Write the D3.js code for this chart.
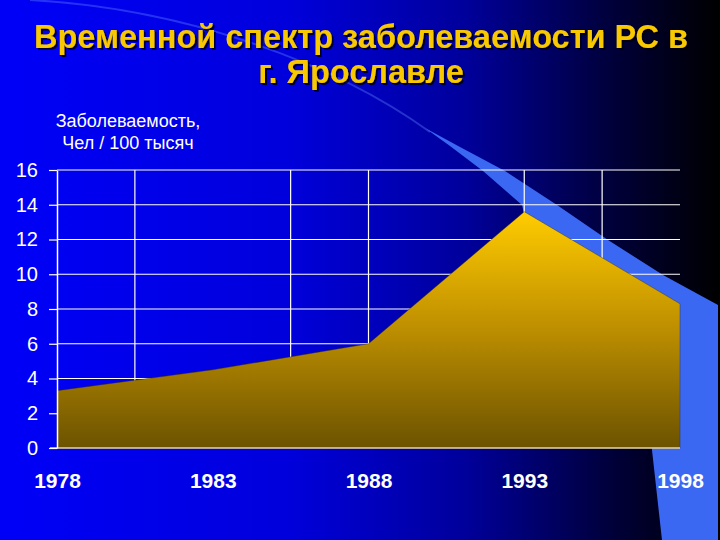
<!doctype html>
<html>
  <head>
    <meta charset="utf-8">
    <script src="https://cdn.jsdelivr.net/npm/d3@7"></script>
    <style>
      body { margin: 0; background: #000; }
      svg { display: block; font-family: "Liberation Sans", Arial, sans-serif; }
    </style>
  </head>
  <body>
    <svg id="chart" width="720" height="540"></svg>

    <script>
      // data
      var years = [1978, 1983, 1988, 1993, 1998];
      var rates = [3.3, 4.5, 6.0, 13.6, 8.3];
      var yTicks = [0, 2, 4, 6, 8, 10, 12, 14, 16];
      var xTicks = [1978, 1983, 1988, 1993, 1998];
      var gridYears = [1980.5, 1985.5, 1988, 1993, 1995.5];
      var titleLines = ["Временной спектр заболеваемости РС в", "г. Ярославле"];
      var unitLines = ["Заболеваемость,", "Чел / 100 тысяч"];

      var svg = d3.select("#chart");
      var defs = svg.append("defs");

      // slide background: blue fading to black on the right
      var bg = defs.append("linearGradient").attr("id", "bg")
        .attr("x1", 0).attr("x2", 1).attr("y1", 0).attr("y2", 0);
      bg.append("stop").attr("offset", 0).attr("stop-color", "#0000f8");
      bg.append("stop").attr("offset", 0.4).attr("stop-color", "#0000dc");
      bg.append("stop").attr("offset", 0.65).attr("stop-color", "#00009a");
      bg.append("stop").attr("offset", 0.85).attr("stop-color", "#00003a");
      bg.append("stop").attr("offset", 1).attr("stop-color", "#000000");

      var gold = defs.append("linearGradient").attr("id", "gold")
        .attr("x1", 0).attr("x2", 0).attr("y1", 0).attr("y2", 1);
      gold.append("stop").attr("offset", 0).attr("stop-color", "#ffcc00");
      gold.append("stop").attr("offset", 0.45).attr("stop-color", "#c49400");
      gold.append("stop").attr("offset", 1).attr("stop-color", "#6c5300");

      var shadow = defs.append("filter").attr("id", "shadow")
        .attr("x", "-5%").attr("y", "-20%").attr("width", "110%").attr("height", "140%");
      shadow.append("feDropShadow")
        .attr("dx", 2).attr("dy", 2).attr("stdDeviation", 0.6)
        .attr("flood-color", "#000").attr("flood-opacity", 0.75);

      svg.append("rect").attr("width", 720).attr("height", 540).attr("fill", "url(#bg)");

      // the decorative swoosh of the template
      svg.append("path")
        .attr("d", "M30,0 C180,8 330,60 430,132")
        .attr("fill", "none").attr("stroke", "#6a90ff")
        .attr("stroke-width", 2).attr("stroke-opacity", 0.35);
      svg.append("path")
        .attr("d", "M425,128 L460,147 L505,171 L557,205 L608,240 L663,275 L718,305 L718,540 L662,540 L652,450 L640,330 L560,250 L524,213 L522,205 L483,171 L450,146 Z")
        .attr("fill", "#3b68f2");

      var x = d3.scaleLinear().domain([1978, 1998]).range([57, 680]);
      var y = d3.scaleLinear().domain([0, 16]).range([448, 170]);

      // title
      svg.append("g").attr("filter", "url(#shadow)").selectAll("text")
        .data(titleLines)
        .enter().append("text")
          .attr("x", 361).attr("y", function(d, i) { return 48 + i * 35; })
          .attr("text-anchor", "middle")
          .attr("font-size", 32.5).attr("font-weight", "bold")
          .attr("fill", "#f8c800")
          .text(function(d) { return d; });

      svg.append("g").selectAll("text")
        .data(unitLines)
        .enter().append("text")
          .attr("x", 128).attr("y", function(d, i) { return 127 + i * 22; })
          .attr("text-anchor", "middle")
          .attr("font-size", 18).attr("fill", "#fff")
          .text(function(d) { return d; });

      // grid
      var grid = svg.append("g").attr("stroke", "#fff").attr("stroke-width", 1.2);
      grid.selectAll("line.h")
        .data(yTicks.slice(1))
        .enter().append("line")
          .attr("x1", x(1978)).attr("x2", x(1998))
          .attr("y1", function(d) { return y(d); }).attr("y2", function(d) { return y(d); });
      grid.selectAll("line.v")
        .data(gridYears)
        .enter().append("line")
          .attr("x1", function(d) { return x(d); }).attr("x2", function(d) { return x(d); })
          .attr("y1", y(16)).attr("y2", y(0));

      // area
      var area = d3.area()
        .x(function(d, i) { return x(years[i]); })
        .y0(y(0))
        .y1(function(d) { return y(d); });
      svg.append("path")
        .datum(rates)
        .attr("d", area)
        .attr("fill", "url(#gold)")
        .attr("stroke", "#3a2c00").attr("stroke-width", 0.8).attr("stroke-opacity", 0.5);

      // x baseline
      svg.append("line")
        .attr("x1", 50).attr("x2", x(1998))
        .attr("y1", y(0)).attr("y2", y(0))
        .attr("stroke", "#e8d8a8").attr("stroke-width", 1.5);

      // y axis
      var yAxis = svg.append("g")
        .attr("transform", "translate(" + x(1978) + ",0)")
        .call(d3.axisLeft(y).tickValues(yTicks).tickSize(8).tickPadding(11).tickSizeOuter(0));
      yAxis.select(".domain").attr("stroke", "#fff").attr("stroke-width", 1.5);
      yAxis.selectAll(".tick line").attr("stroke", "#fff").attr("stroke-width", 1.2);
      yAxis.selectAll(".tick text")
        .attr("fill", "#fff").attr("font-size", 20)
        .attr("font-family", "Liberation Sans, Arial, sans-serif");

      // x axis labels
      var xAxis = svg.append("g")
        .attr("transform", "translate(0," + y(0) + ")")
        .call(d3.axisBottom(x).tickValues(xTicks).tickFormat(d3.format("d")).tickSize(0).tickPadding(25));
      xAxis.select(".domain").remove();
      xAxis.selectAll(".tick text")
        .attr("fill", "#fff").attr("font-size", 21).attr("font-weight", "bold")
        .attr("font-family", "Liberation Sans, Arial, sans-serif");
    </script>
  </body>
</html>
